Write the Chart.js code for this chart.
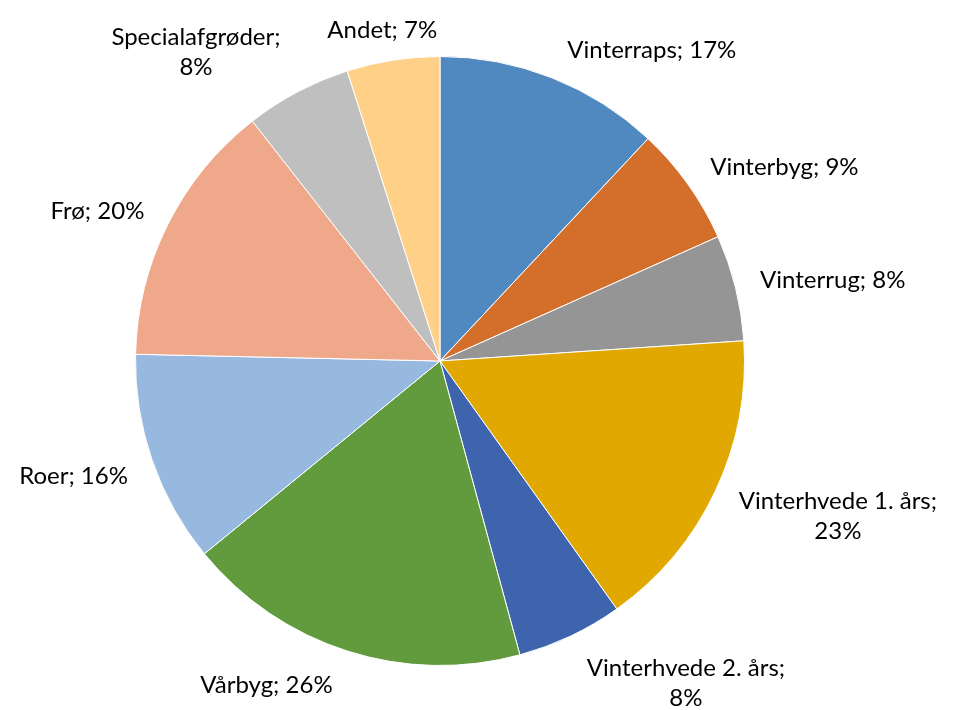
<!DOCTYPE html>
<html>
  <head>
    <meta charset="utf-8" />
    <title>Afgrødefordeling</title>
    <script src="https://cdn.jsdelivr.net/npm/chart.js"></script>
    <style>
      * {
        box-sizing: border-box;
        margin: 0;
        padding: 0;
      }
      body {
        background: #fff;
      }
      #box {
        width: 954px;
        height: 710px;
      }
    </style>
  </head>
  <body>
    <div id="box">
      <canvas id="pie"></canvas>
    </div>

    <script>
      // data (label values, in %)
      const crops = [
        "Vinterraps",
        "Vinterbyg",
        "Vinterrug",
        "Vinterhvede 1. års",
        "Vinterhvede 2. års",
        "Vårbyg",
        "Roer",
        "Frø",
        "Specialafgrøder",
        "Andet",
      ];
      const shares = [17, 9, 8, 23, 8, 26, 16, 20, 8, 7];
      const colors = [
        "#5089BF",
        "#D36F2A",
        "#959595",
        "#E0A800",
        "#3D64AD",
        "#629A3E",
        "#98B9DF",
        "#F0A88A",
        "#BFBFBF",
        "#FFD087",
      ];

      const FONT = "24px Lato";
      const LINE_H = 30;
      const WRAP_W = 190;

      // outside labels in the "Name; 17%" style
      const outsideLabels = {
        id: "outsideLabels",
        afterDatasetsDraw(chart) {
          const ctx = chart.ctx;
          const arcs = chart.getDatasetMeta(0).data;
          ctx.save();
          ctx.font = FONT;
          ctx.fillStyle = "#000";
          ctx.textBaseline = "middle";
          arcs.forEach((arc, i) => {
            const { x, y, startAngle, endAngle, outerRadius } = arc.getProps(
              ["x", "y", "startAngle", "endAngle", "outerRadius"],
              true
            );
            const mid = (startAngle + endAngle) / 2;
            const ux = Math.cos(mid);
            const uy = Math.sin(mid);
            const r = outerRadius + 15;
            const ax = x + ux * r;
            const ay = y + uy * r;

            const full = crops[i] + "; " + shares[i] + "%";
            let lines = [full];
            if (ctx.measureText(full).width > WRAP_W) {
              lines = [crops[i] + ";", shares[i] + "%"];
            }
            const w = Math.max(...lines.map((l) => ctx.measureText(l).width));
            const h = lines.length * LINE_H;

            let cx;
            if (ux > 0.25) cx = ax + 10 + w / 2;
            else if (ux < -0.25) cx = ax - 10 - w / 2;
            else cx = ax + (ux * w) / 2;
            const cy = ay + (uy * h) / 2 + (uy > 0 ? 6 : 0);

            ctx.textAlign = "center";
            lines.forEach((l, k) => {
              ctx.fillText(l, cx, cy - h / 2 + LINE_H * (k + 0.5));
            });
          });
          ctx.restore();
        },
      };

      new Chart(document.getElementById("pie"), {
        type: "pie",
        data: {
          labels: crops,
          datasets: [
            {
              data: shares,
              backgroundColor: colors,
              borderColor: "#fff",
              borderWidth: 1,
            },
          ],
        },
        options: {
          responsive: true,
          maintainAspectRatio: false,
          animation: false,
          layout: {
            padding: { left: 135, right: 209, top: 56, bottom: 44 },
          },
          plugins: {
            legend: { display: false },
            tooltip: { enabled: false },
          },
        },
        plugins: [outsideLabels],
      });
    </script>
  </body>
</html>
